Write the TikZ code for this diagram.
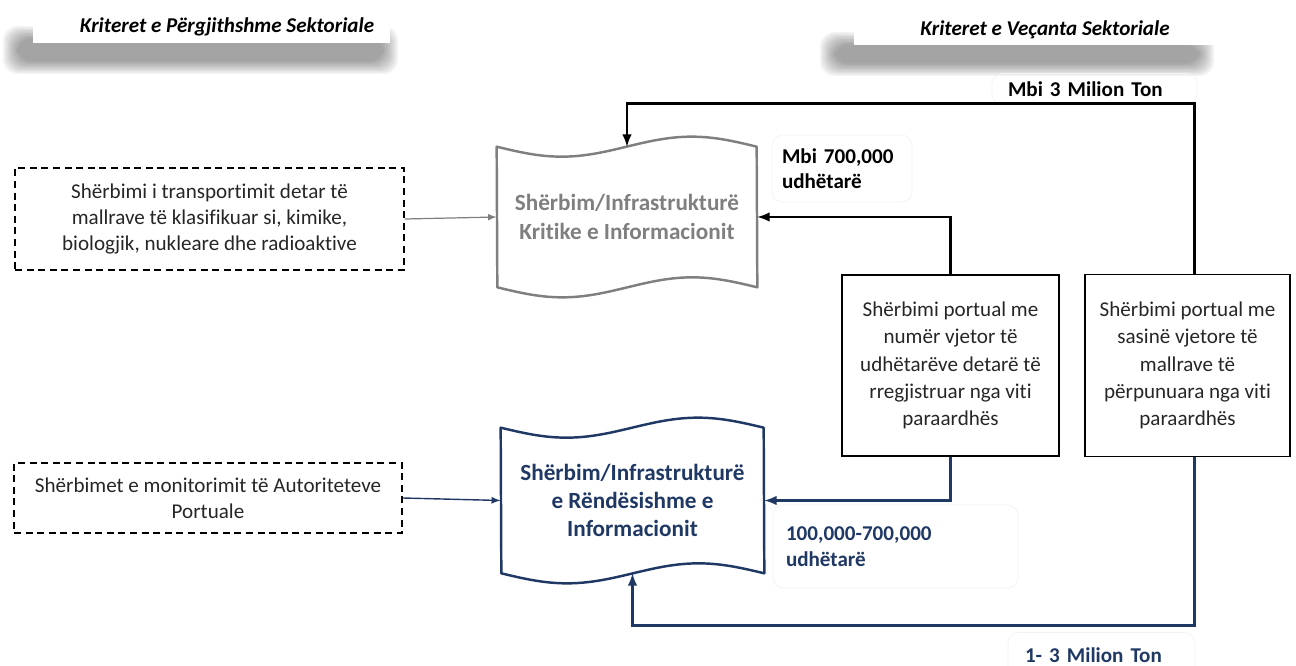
\documentclass[tikz,border=0pt]{standalone}
\usepackage{fontspec}
\setmainfont[Ligatures={NoCommon,NoContextual}]{Carlito}
\usetikzlibrary{positioning,arrows.meta,calc}
\definecolor{navy}{HTML}{1F3864}
\definecolor{greytext}{HTML}{7F7F7F}
\definecolor{inktext}{HTML}{262626}

\tikzset{
  dashbox/.style={draw=black,line width=1.1pt,dash pattern=on 4pt off 2.6pt,
    align=center,text=inktext,font=\fontsize{12}{15}\selectfont},
  portbox/.style={draw=black,line width=1.1pt,align=center,text=inktext,
    font=\fontsize{12}{15.5}\selectfont},
  tapebox/.style={align=center,minimum width=5.2cm,
    font=\bfseries\fontsize{13.2}{16}\selectfont},
  tapeline/.style={line width=1.4pt,line join=round},
  header/.style={font=\bfseries\itshape\fontsize{12}{14}\selectfont},
  tag/.style={draw=black!5,rounded corners=6pt,align=left,
    font=\bfseries\fontsize{12}{14.5}\selectfont},
}

\begin{document}
\begin{tikzpicture}[x=0.02cm,y=-0.02cm]
\useasboundingbox (0,0) rectangle (1296,666);

\foreach \k in {0,...,9}
  \fill[black,opacity=0.045,rounded corners=8pt] (3+1.6*\k,26+1.4*\k) rectangle (398-1.6*\k,74-1.4*\k);
\foreach \k in {0,...,9}
  \fill[black,opacity=0.045,rounded corners=8pt] (820+1.6*\k,32+1.4*\k) rectangle (1214-1.6*\k,76-1.4*\k);
\fill[white] (33,-5) rectangle (390,43);
\fill[white] (854,-5) rectangle (1228,45);

\node[header] (general) at (227,27) {Kriteret e Përgjithshme Sektoriale};
\node[header] (special) at (1045,30) {Kriteret e Veçanta Sektoriale};

\node[dashbox,minimum width=7.78cm,minimum height=2.04cm] (chem) at (209.5,219) {Shërbimi i transportimit detar të\\mallrave të klasifikuar si, kimike,\\biologjik, nukleare dhe radioaktive};
\node[dashbox,minimum width=7.76cm,minimum height=1.4cm] (auth) at (208,498) {Shërbimet e monitorimit të Autoriteteve\\Portuale};

\node[tapebox,text=greytext,minimum height=2.8cm] (crit) at (627,217) {Shërbim/Infrastrukturë\\Kritike e Informacionit};
\draw[tapeline,greytext] (crit.north west) sin ++(65,10) cos ++(65,-10) sin ++(65,-10) cos ++(65,10)
  -- (crit.south east) sin ++(-65,-10) cos ++(-65,10) sin ++(-65,10) cos ++(-65,-10) -- cycle;
\node[tapebox,text=navy,minimum width=5.26cm,minimum height=2.9cm] (imp) at (632.5,500.5) {Shërbim/Infrastrukturë\\e Rëndësishme e\\Informacionit};
\draw[tapeline,navy] (imp.north west) sin ++(65.75,10) cos ++(65.75,-10) sin ++(65.75,-10) cos ++(65.75,10)
  -- (imp.south east) sin ++(-65.75,-10) cos ++(-65.75,10) sin ++(-65.75,10) cos ++(-65.75,-10) -- cycle;

\node[portbox,minimum width=4.34cm,minimum height=3.62cm] (pass) at (950.5,365.5) {Shërbimi portual me\\numër vjetor të\\udhëtarëve detarë të\\rregjistruar nga viti\\paraardhës};
\node[portbox,minimum width=4.1cm,minimum height=3.64cm] (cargo) at (1187.5,365.5) {Shërbimi portual me\\sasinë vjetore të\\mallrave të\\përpunuara nga viti\\paraardhës};

\node[tag,text=black,minimum width=2.8cm,minimum height=1.34cm,text width=2.4cm] (pax700) at (842,168.5) {Mbi 700,000\\udhëtarë};
\node[tag,text=navy,minimum width=4.9cm,minimum height=1.66cm,text width=4.38cm] (pax100) at (895.5,546.5) {100,000-700,000\\udhëtarë};
\node[tag,text=black,minimum width=4.1cm,minimum height=0.62cm,text width=3.46cm] (ton3) at (1094.5,89) {Mbi 3 Milion Ton};
\node[tag,text=navy,minimum width=3.74cm,minimum height=0.9cm,text width=3.06cm] (ton1) at (1101.5,655) {1- 3 Milion Ton};

\draw[-latex,greytext,line width=0.7pt] (chem.east) -- (crit.west);
\draw[-latex,navy,line width=0.8pt] (auth.east) -- (imp.west);
\draw[-latex,line width=1.4pt] (pass.north) |- (crit.east);
\draw[-latex,line width=1.4pt] ($(cargo.north)+(7,0)$) -- ++(0,-170) -| (crit.north);
\draw[-latex,navy,line width=1.4pt] (pass.south) |- (imp.east);
\draw[-latex,navy,line width=1.4pt] ($(cargo.south)+(7,0)$) -- ++(0,168) -| (imp.south);
\end{tikzpicture}
\end{document}
